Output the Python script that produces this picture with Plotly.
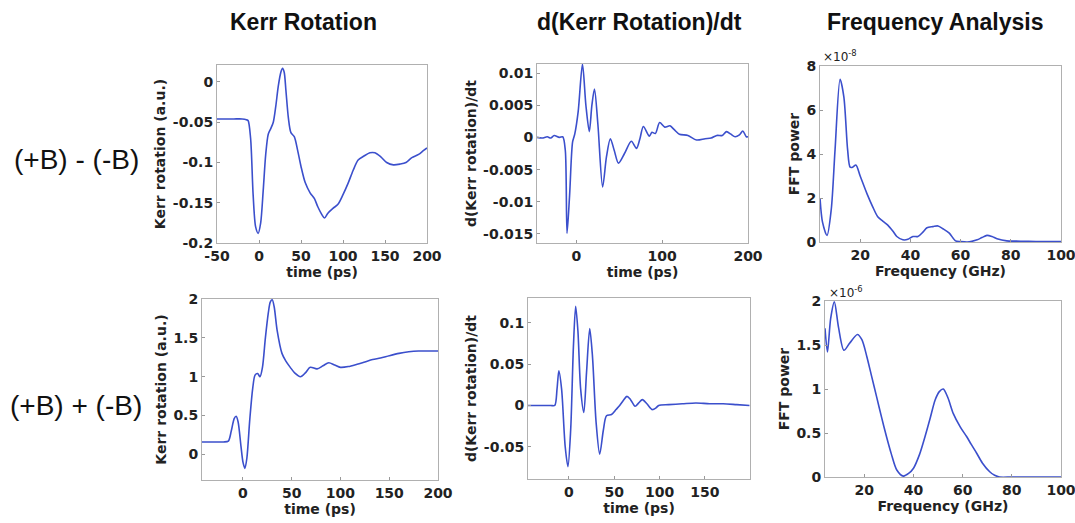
import plotly.graph_objects as go

W, H = 1075, 523

# ---------------- data ----------------
# (+B)-(-B) Kerr rotation
t_kd = [-50, -40, -30, -20, -15, -13, -10, -7, -4, -1, 2, 5, 8, 11, 14, 17, 20, 23, 26, 28, 30, 32, 35, 38,
        42, 46, 50, 55, 61, 66, 70, 75, 78, 82, 88, 94, 100, 106, 112, 118, 125, 132, 138, 145, 152, 160,
        168, 175, 182, 190, 196, 200]
k_kd = [-0.046, -0.046, -0.046, -0.046, -0.047, -0.048, -0.07, -0.14, -0.18, -0.188, -0.175, -0.135,
        -0.09, -0.065, -0.058, -0.05, -0.03, -0.005, 0.012, 0.017, 0.012, -0.01, -0.045, -0.063, -0.068,
        -0.085, -0.105, -0.125, -0.138, -0.145, -0.155, -0.165, -0.169, -0.163, -0.157, -0.152, -0.14,
        -0.126, -0.11, -0.097, -0.092, -0.088, -0.088, -0.093, -0.1, -0.103, -0.102, -0.1, -0.094, -0.09,
        -0.085, -0.082]

# (+B)-(-B) derivative
t_dd = [-46, -40, -34, -30, -26, -20, -16, -13, -11, -8, -4.5, -2, 2, 7, 11, 15, 18, 21, 25, 30.5, 35,
        39.5, 44, 49, 56, 64, 70, 74, 78, 85, 88, 92, 97, 103, 109, 114, 120, 130, 140, 150, 157, 163.6,
        170, 175, 180, 185, 190, 194, 198, 200]
d_dd = [0.0, -0.0001, 0.0001, -0.0001, 0.0003, 0.0, 0.0001, -0.002, -0.0149, -0.009, -0.0007, 0.0005,
        0.004, 0.0114, 0.005, 0.0009, 0.005, 0.0075, 0.002, -0.0077, -0.003, -0.0002, -0.002, -0.004,
        -0.0025, -0.0006, -0.0017, -0.0002, 0.0017, 0.0002, 0.0008, 0.0006, 0.0023, 0.0016, 0.0018,
        0.0012, 0.0005, 0.0003, -0.0004, -0.0002, -0.0001, 0.0003, 0.0003, 0.0009, 0.0005, 0.0001,
        0.0004, 0.001, 0.0001, 0.0001]

# (+B)-(-B) FFT power (x1e-8)
f_fd = [4, 5, 6.8, 8.5, 10, 12, 13.5, 15, 16, 17, 18.3, 20, 22.7, 25, 27, 29, 31, 33, 34.6, 37, 39, 41, 43,
        45, 46.6, 49, 51, 53, 55.5, 58, 60, 62.6, 64.5, 66.6, 68.5, 70.5, 72.5, 74.5, 78.4, 82, 86, 90,
        95, 100]
p_fd = [2.0, 0.9, 0.3, 1.5, 4.2, 7.4, 6.6, 4.2, 3.4, 3.4, 3.5, 3.0, 2.2, 1.6, 1.15, 0.95, 0.77, 0.5, 0.25,
        0.1, 0.12, 0.25, 0.25, 0.45, 0.65, 0.7, 0.73, 0.6, 0.4, 0.05, 0.02, 0.0, 0.03, 0.1, 0.2, 0.3, 0.25,
        0.15, 0.05, 0.04, 0.03, 0.02, 0.02, 0.02]

# (+B)+(-B) Kerr rotation
t_ks = [-42, -30, -20, -15, -12, -9, -7, -5, -2, 0, 2, 4, 7, 10, 12.4, 15, 17.5, 20, 23, 26, 28, 30, 32,
        35, 40, 44, 48.5, 53, 59, 64, 69, 76, 82, 88, 94, 100, 108, 117, 125, 133, 141, 150, 160, 170,
        180, 190, 200]
k_ks = [0.16, 0.16, 0.16, 0.17, 0.3, 0.46, 0.49, 0.42, 0.1, -0.1, -0.18, -0.05, 0.45, 0.85, 1.02, 1.04,
        1.0, 1.12, 1.5, 1.82, 1.96, 1.99, 1.9, 1.6, 1.3, 1.2, 1.12, 1.05, 1.0, 1.05, 1.12, 1.1, 1.14,
        1.18, 1.15, 1.12, 1.13, 1.16, 1.19, 1.22, 1.24, 1.27, 1.3, 1.32, 1.33, 1.33, 1.33]

# (+B)+(-B) derivative
t_ds = [-45, -30, -20, -15.5, -13, -11, -8, -4, -1, 2, 5, 7.5, 10, 13, 16.5, 19.5, 23, 26, 30, 34, 38,
        41.5, 47, 52, 56, 60, 64, 68, 73, 77, 81, 86, 92, 96, 99, 110, 125, 140, 155, 170, 185, 199]
d_ds = [0.0, 0.0, 0.0, 0.0, 0.02, 0.042, 0.02, -0.05, -0.074, -0.03, 0.07, 0.12, 0.09, 0.02, -0.0085,
        0.04, 0.093, 0.06, -0.02, -0.059, -0.03, -0.0125, -0.011, -0.005, 0.0, 0.006, 0.011, 0.007,
        -0.001, 0.003, 0.007, 0.002, -0.005, -0.003, 0.0, 0.001, 0.002, 0.003, 0.002, 0.002, 0.001, 0.0]

# (+B)+(-B) FFT power (x1e-6)
f_fs = [4, 5, 6.3, 7.8, 9.5, 11.7, 14, 17.2, 19, 21, 23, 25, 27, 29, 31, 33.2, 35.9, 38, 40, 42.5, 44.7,
        46.8, 48.8, 50.5, 52.1, 54, 56.2, 59, 61.6, 63.5, 65.7, 68, 71, 73, 75, 80, 90, 100]
p_fs = [1.69, 1.42, 1.8, 1.99, 1.7, 1.44, 1.52, 1.62, 1.56, 1.37, 1.14, 0.91, 0.68, 0.46, 0.26, 0.08,
        0.01, 0.04, 0.1, 0.26, 0.46, 0.67, 0.875, 0.97, 1.0, 0.9, 0.72, 0.57, 0.46, 0.37, 0.27, 0.16,
        0.06, 0.02, 0.0, 0.0, 0.0, 0.0]

# tick labels
tl_x = [-50, 0, 50, 100, 150, 200]
tl_y = [-0.2, -0.15, -0.1, -0.05, 0]
tl_yt = ["-0.2", "-0.15", "-0.1", "-0.05", "0"]
tm_x = [0, 100, 200]
tm_y = [-0.015, -0.01, -0.005, 0, 0.005, 0.01]
tm_yt = ["-0.015", "-0.01", "-0.005", "0", "0.005", "0.01"]
fr_x = [20, 40, 60, 80, 100]
tr_y = [0, 2, 4, 6, 8]
bl_x = [0, 50, 100, 150, 200]
bl_y = [0, 0.5, 1, 1.5, 2]
bm_x = [0, 50, 100, 150]
bm_y = [-0.05, 0, 0.05, 0.1]
bm_yt = ["-0.05", "0", "0.05", "0.1"]
br_y = [0, 0.5, 1, 1.5, 2]

col_titles = ["Kerr Rotation", "d(Kerr Rotation)/dt", "Frequency Analysis"]
row_titles = ["(+B) - (-B)", "(+B) + (-B)"]
exp_labels = ["×10<sup>-8</sup>", "×10<sup>-6</sup>"]

# ---------------- layout ----------------
LINE = "#3b4fcc"
TICKF = dict(family="DejaVu Sans", size=14, color="#222", weight="bold")
TITLEF = dict(family="DejaVu Sans", size=14, color="#222", weight="bold")


def dom(x0, x1, y0, y1):
    return [x0 / W, x1 / W], [1 - y1 / H, 1 - y0 / H]


panels = [
    ((217, 427, 65, 243), t_kd, k_kd, [-50, 200], [-0.2, 0.021], tl_x, tl_y, tl_yt, "time (ps)", "Kerr rotation (a.u.)"),
    ((537, 748, 64, 243), t_dd, d_dd, [-46, 200], [-0.0164, 0.0114], tm_x, tm_y, tm_yt, "time (ps)", "d(Kerr rotation)/dt"),
    ((820, 1061, 66, 242), f_fd, p_fd, [4, 100], [0, 8], fr_x, tr_y, None, "Frequency (GHz)", "FFT power"),
    ((202, 438, 299, 480), t_ks, k_ks, [-42, 200], [-0.33, 2], bl_x, bl_y, None, "time (ps)", "Kerr rotation (a.u.)"),
    ((528, 750, 298, 479), t_ds, d_ds, [-45, 199.6], [-0.089, 0.13], bm_x, bm_y, bm_yt, "time (ps)", "d(Kerr rotation)/dt"),
    ((825, 1061, 301, 477), f_fs, p_fs, [4, 100], [0, 2], fr_x, br_y, None, "Frequency (GHz)", "FFT power"),
]

fig = go.Figure()
layout = dict(
    template="none",
    width=W, height=H, margin=dict(l=0, r=0, t=0, b=0, autoexpand=False),
    paper_bgcolor="white", plot_bgcolor="white", showlegend=False,
)
for i, (box, xs, ys, xr, yr, xt, yt, ytt, xtitle, ytitle) in enumerate(panels, start=1):
    xd, yd = dom(*box)
    sfx = "" if i == 1 else str(i)
    fig.add_trace(go.Scatter(x=xs, y=ys, mode="lines", xaxis="x" + sfx, yaxis="y" + sfx,
                             line=dict(color=LINE, width=1.6, shape="spline", smoothing=0.8),
                             hoverinfo="skip"))
    common = dict(showline=True, mirror=True, linecolor="#b0b0b0", linewidth=1, showgrid=False,
                  zeroline=False, ticks="inside", ticklen=3, tickcolor="#999", tickfont=TICKF,
                  automargin=False, ticklabeloverflow="allow")
    layout["xaxis" + sfx] = dict(domain=xd, range=xr, anchor="y" + sfx, tickvals=xt,
                                 ticktext=[str(v) for v in xt],
                                 title=dict(text=xtitle, font=TITLEF, standoff=2), **common)
    layout["yaxis" + sfx] = dict(domain=yd, range=yr, anchor="x" + sfx, tickvals=yt,
                                 ticktext=ytt if ytt else [str(v) for v in yt],
                                 title=dict(text=ytitle, font=TITLEF, standoff=3), **common)

fig.update_layout(**layout)

ann = []
for txt, cx in zip(col_titles, [303, 639, 935]):
    ann.append(dict(text=txt, x=cx / W, y=1 - 22 / H, xref="paper", yref="paper", showarrow=False,
                    xanchor="center", yanchor="middle",
                    font=dict(family="Liberation Sans", size=23, color="#111", weight="bold")))
for txt, cy in zip(row_titles, [160, 405]):
    ann.append(dict(text=txt, x=76 / W, y=1 - cy / H, xref="paper", yref="paper", showarrow=False,
                    xanchor="center", yanchor="middle",
                    font=dict(family="Liberation Sans", size=28, color="#111")))
for txt, ex, ey in zip(exp_labels, [821, 827], [56, 292]):
    ann.append(dict(text=txt, x=ex / W, y=1 - ey / H, xref="paper", yref="paper",
                    showarrow=False, xanchor="left", yanchor="middle",
                    font=dict(family="DejaVu Sans", size=12, color="#222")))
fig.update_layout(annotations=ann)

fig.write_html("out.html")
